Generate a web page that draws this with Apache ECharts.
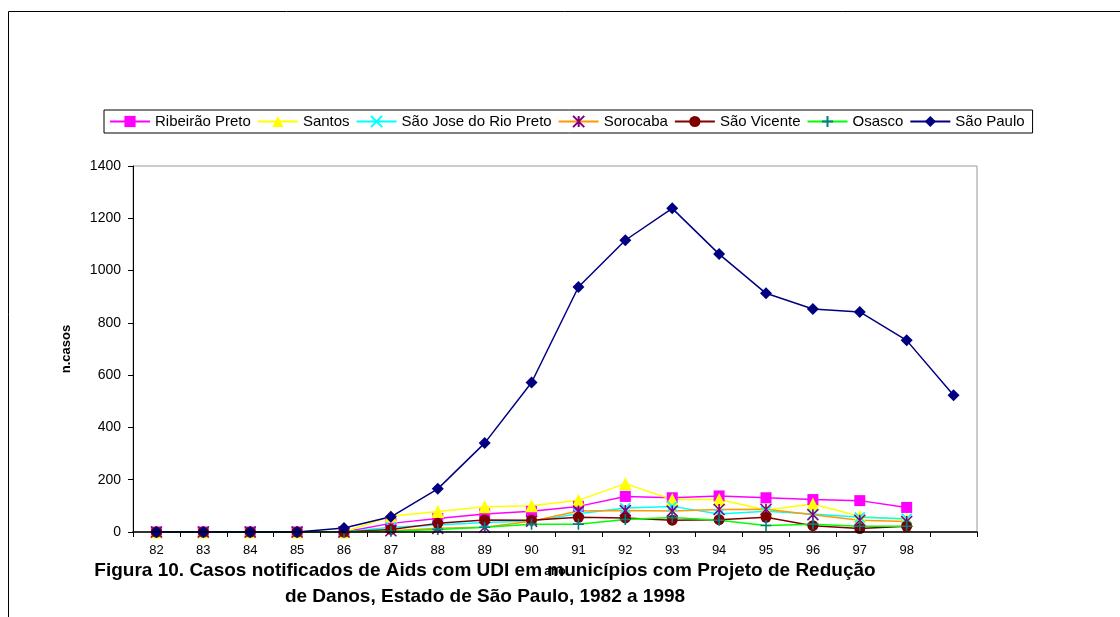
<!DOCTYPE html>
<html>
<head>
<meta charset="utf-8">
<script src="https://cdn.jsdelivr.net/npm/echarts@6/dist/echarts.min.js"></script>
<style>
  html, body { margin: 0; padding: 0; background: #fff; }
  #chart { width: 1120px; height: 617px; }
</style>
</head>
<body>
<div id="chart"></div>
<script>
// Years (two-digit); the last slot carries only the São Paulo point and has no label
const yearLabels = ['82','83','84','85','86','87','88','89','90','91','92','93','94','95','96','97','98',''];

const ribeiraoPreto = [0,0,0,0,0,33,52,69,79,98,136,131,138,131,124,120,94];
const santos        = [0,0,0,0,0,60,78,97,100,121,185,124,124,84,107,60,47];
const sjRioPreto    = [0,0,0,0,0,18,27,36,42,70,92,98,69,79,69,56,51];
const sorocaba      = [0,0,0,0,0,5,14,18,41,80,82,80,86,87,66,45,40];
const saoVicente    = [0,0,0,0,0,10,33,46,45,56,54,45,47,56,24,13,22];
const osasco        = [0,0,0,0,0,3,10,18,30,30,48,55,45,25,30,22,22];
const saoPaulo      = [0,0,0,0,15,58,165,340,572,937,1116,1238,1063,913,853,842,733,523];

const yTicks = { min: 0, max: 1400, interval: 200 };

// Stroke-only marker shapes
const SYM_X = 'path://M0,0L10,10M10,0L0,10';
const SYM_STAR = 'path://M0,0L10,10M10,0L0,10M5,0L5,10';
const SYM_PLUS = 'path://M5,0L5,10M0,5L10,5';

function lineSeries(name, data, lineColor, markColor, symbol, size, strokeOnly) {
  return {
    name: name,
    type: 'line',
    data: data,
    symbol: symbol,
    symbolSize: size,
    showAllSymbol: true,
    lineStyle: { color: lineColor, width: 1.5 },
    itemStyle: strokeOnly
      ? { color: markColor, borderColor: markColor, borderWidth: 1.6 }
      : { color: markColor, borderColor: markColor, borderWidth: 0 },
    emphasis: { disabled: true },
    animation: false
  };
}

const chart = echarts.init(document.getElementById('chart'), null, { renderer: 'canvas' });

chart.setOption({
  backgroundColor: '#ffffff',
  animation: false,
  textStyle: { fontFamily: 'Arial, "Liberation Sans", sans-serif' },
  graphic: [{
    type: 'rect',
    shape: { x: 8.5, y: 11.5, width: 1300, height: 800 },
    style: { fill: 'none', stroke: '#000', lineWidth: 1 },
    silent: true,
    z: -10
  }],
  title: {
    text: 'Figura 10. Casos notificados de Aids com UDI em municípios com Projeto de Redução\nde Danos, Estado de São Paulo, 1982 a 1998',
    left: 485,
    top: 558,
    textAlign: 'center',
    padding: 0,
    z: 1,
    textStyle: {
      fontFamily: 'Arial, "Liberation Sans", sans-serif',
      fontWeight: 'bold',
      fontSize: 19,
      lineHeight: 26,
      color: '#000'
    }
  },
  legend: {
    left: 104,
    top: 110,
    orient: 'horizontal',
    padding: [4, 8, 4, 5],
    itemGap: 6,
    itemWidth: 40,
    itemHeight: 14,
    borderColor: '#000',
    borderWidth: 1,
    textStyle: { fontSize: 15, color: '#000', fontFamily: 'Arial, "Liberation Sans", sans-serif' },
    data: ['Ribeirão Preto','Santos','São Jose do Rio Preto','Sorocaba','São Vicente','Osasco','São Paulo']
  },
  grid: {
    left: 133,
    top: 166,
    right: 143,
    bottom: 85,
    show: true,
    borderColor: '#9a9a9a',
    borderWidth: 1,
    containLabel: false
  },
  xAxis: {
    type: 'category',
    data: yearLabels,
    boundaryGap: true,
    name: 'ano',
    nameLocation: 'middle',
    nameGap: 34,
    z: 10,
    nameTextStyle: { fontWeight: 'bold', fontSize: 12, color: '#000' },
    axisLine: { lineStyle: { color: '#000', width: 1.5 } },
    axisTick: { show: true, length: 5, lineStyle: { color: '#000' } },
    axisLabel: { color: '#000', fontSize: 13, margin: 12, interval: 0 },
    splitLine: { show: false }
  },
  yAxis: {
    type: 'value',
    min: yTicks.min,
    max: yTicks.max,
    interval: yTicks.interval,
    name: 'n.casos',
    nameLocation: 'middle',
    nameGap: 60,
    nameRotate: 90,
    nameTextStyle: { fontWeight: 'bold', fontSize: 13, color: '#000' },
    axisLine: { show: true, lineStyle: { color: '#000', width: 1 } },
    axisTick: { show: true, length: 5, lineStyle: { color: '#000' } },
    axisLabel: { color: '#000', fontSize: 14, margin: 12, formatter: function (v) { return String(v); } },
    splitLine: { show: false }
  },
  series: [
    lineSeries('Ribeirão Preto', ribeiraoPreto, '#ff00ff', '#ff00ff', 'rect', 11, false),
    lineSeries('Santos', santos, '#ffff00', '#ffff00', 'triangle', 13, false),
    lineSeries('São Jose do Rio Preto', sjRioPreto, '#00ffff', '#00ffff', SYM_X, 10, true),
    lineSeries('Sorocaba', sorocaba, '#ff9900', '#800080', SYM_STAR, 11, true),
    lineSeries('São Vicente', saoVicente, '#800000', '#800000', 'circle', 11, false),
    lineSeries('Osasco', osasco, '#00ff00', '#008080', SYM_PLUS, 11, true),
    lineSeries('São Paulo', saoPaulo, '#000080', '#000080', 'diamond', 12, false)
  ]
});
</script>
</body>
</html>
